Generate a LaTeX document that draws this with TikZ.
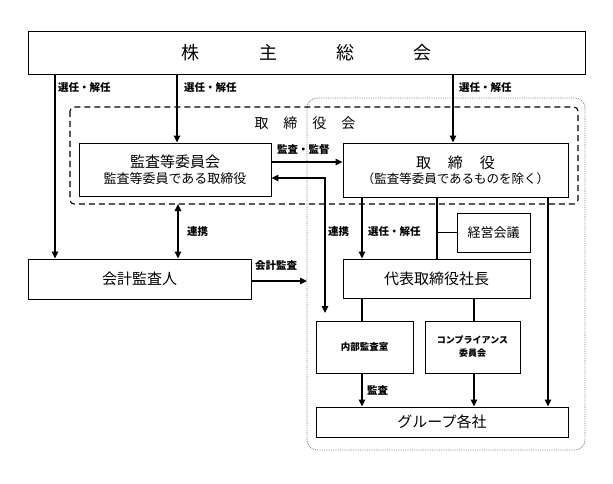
\documentclass[tikz,border=0pt]{standalone}
\usepackage{fontspec}
\setmainfont{Noto Sans CJK JP}
\usetikzlibrary{arrows.meta,calc}
\begin{document}
\begin{tikzpicture}[x=1pt,y=-1pt,
  box/.style={draw,line width=0.9pt,inner sep=0pt,align=center,fill=white},
  conn/.style={line width=1.4pt},
  arr/.style={conn,-{Triangle[length=7pt,width=6.5pt]}},
  darr/.style={conn,{Triangle[length=7pt,width=6.5pt]}-{Triangle[length=7pt,width=6.5pt]}},
  lbl/.style={font=\fontsize{10.5}{10.5}\selectfont\bfseries,anchor=west,inner sep=0pt},
  big/.style={font=\fontsize{15}{15}\selectfont}]
\useasboundingbox[fill=white] (0,0) rectangle (613,484);

% group boundaries
\draw[densely dotted,gray,line width=0.8pt,rounded corners=10pt] (307,98) rectangle (585,450);
\draw[line width=1.1pt,rounded corners=4pt,dash pattern=on 6pt off 4pt] (70,107) rectangle (578,204);
\node[font=\fontsize{14}{14}\selectfont,inner sep=0pt] (torikai) at (305,123) {取\hspace{15pt}締\hspace{15pt}役\hspace{15pt}会};

% boxes
\node[box,minimum width=557pt,minimum height=43pt,font=\fontsize{18}{18}\selectfont] (kabu) at (306.5,52.5) {株\hspace{60pt}主\hspace{59pt}総\hspace{59pt}会};
\node[box,minimum width=192pt,minimum height=53pt] (kansa) at (175,169.5)
  {{\fontsize{15}{15}\selectfont 監査等委員会}\\[3pt]{\fontsize{13}{13}\selectfont 監査等委員である取締役}};
\node[box,minimum width=225pt,minimum height=54pt] (tori) at (455.5,170)
  {{\fontsize{15}{15}\selectfont 取\hspace{17pt}締\hspace{17pt}役}\\[3pt]{\fontsize{12.5}{12.5}\selectfont （監査等委員であるものを除く）}};
\node[box,minimum width=73pt,minimum height=39pt,font=\fontsize{13}{13}\selectfont] (keiei) at (493.5,232.5) {経営会議};
\node[box,big,minimum width=187pt,minimum height=39pt] (daihyo) at (436.5,278.5) {代表取締役社長};
\node[box,minimum width=97pt,minimum height=52pt,font=\fontsize{9.5}{9.5}\selectfont\bfseries] (naibu) at (364.5,347) {内部監査室};
\node[box,minimum width=95pt,minimum height=52pt,font=\fontsize{9}{13}\selectfont\bfseries] (compl) at (472.5,347) {コンプライアンス\\委員会};
\node[box,big,minimum width=252pt,minimum height=30pt] (group) at (442,422) {グループ各社};
\node[box,big,minimum width=223pt,minimum height=40pt] (kaikei) at (139.5,279) {会計監査人};

% coordinates
\coordinate (dashbot) at (178,204);
\coordinate (dotleft) at (307,281);
\coordinate (naibutop) at (325,313);

% connectors from 株主総会
\draw[arr] (kabu.south -| 55,0) -- (kaikei.north -| 55,0);
\draw[arr] (kabu.south -| 177,0) -- (kansa.north -| 177,0);
\draw[arr] (kabu.south -| 453,0) -- (tori.north -| 453,0);
\node[lbl] (l1) at (58,88) {選任・解任};
\node[lbl] (l2) at (184,88) {選任・解任};
\node[lbl] (l3) at (459,88) {選任・解任};

% 監査・監督
\draw[arr] (kansa.east |- 0,162) -- (tori.west |- 0,162);
\node[lbl] (l4) at (277,150) {監査・監督};

% 連携 with 内部監査室
\draw[darr] (kansa.east |- 0,178) -| (naibutop);
\node[lbl] (l5) at (328,232) {連携};

% 連携 with 会計監査人
\draw[darr] (dashbot) -- (kaikei.north -| dashbot);
\node[lbl] (l6) at (187,232) {連携};

% 会計監査
\draw[arr] (kaikei.east |- dotleft) -- (dotleft);
\node[lbl] (l7) at (255,266) {会計監査};

% 取締役 to 代表取締役社長
\draw[arr] (tori.south -| 362,0) -- (daihyo.north -| 362,0);
\node[lbl] (l8) at (368,232) {選任・解任};
\draw[conn] (tori.south -| 437,0) -- (daihyo.north -| 437,0);
\draw[conn] (keiei.west -| 437,0) -- (keiei.west);
\draw[arr] (tori.south -| 548,0) -- (group.north -| 548,0);

% 代表 to 内部/コンプラ
\draw[conn] (daihyo.south -| 362,0) -- (naibu.north -| 362,0);
\draw[conn] (daihyo.south -| 474,0) -- (compl.north -| 474,0);

% to グループ各社
\draw[arr] (naibu.south -| 362,0) -- (group.north -| 362,0);
\node[lbl] (l9) at (367,390) {監査};
\draw[arr] (compl.south -| 474,0) -- (group.north -| 474,0);
\end{tikzpicture}
\end{document}
